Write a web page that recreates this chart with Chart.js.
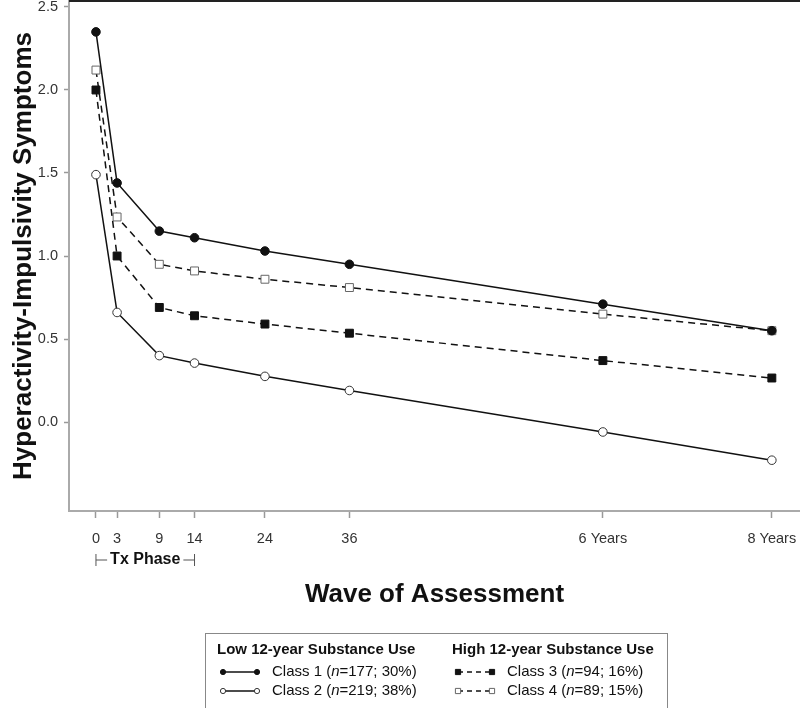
<!DOCTYPE html>
<html>
<head>
<meta charset="utf-8">
<script src="https://cdn.jsdelivr.net/npm/chart.js@4"></script>
<style>
  html, body { margin: 0; padding: 0; background: #fff; }
  #wrap { width: 800px; height: 708px; position: relative; }
</style>
</head>
<body>
<div id="wrap"><canvas id="chart"></canvas></div>
<script>
// --- Data ---
const waves = [0, 3, 9, 14, 24, 36, 72, 96]; // months since baseline
const waveLabels = ["0", "3", "9", "14", "24", "36", "6 Years", "8 Years"];
const yTicks = [0, 0.5, 1, 1.5, 2, 2.5];
const txPhase = [0, 14];

const class1 = [2.35, 1.44, 1.15, 1.11, 1.03, 0.95, 0.71, 0.55];
const class2 = [1.49, 0.66, 0.40, 0.355, 0.275, 0.19, -0.06, -0.23];
const class3 = [2.0, 1.0, 0.69, 0.64, 0.59, 0.535, 0.37, 0.265];
const class4 = [2.12, 1.235, 0.95, 0.91, 0.86, 0.81, 0.65, 0.55];

const classNames = ["Class 1", "Class 2", "Class 3", "Class 4"];
const classN = [177, 219, 94, 89];
const classPct = [30, 38, 16, 15];
const groupTitles = ["Low 12-year Substance Use", "High 12-year Substance Use"];

const FONT = "'Liberation Sans', Arial, Helvetica, sans-serif";
const INK = "#111";

function pts(vals) {
  return waves.map((w, i) => ({ x: w, y: vals[i] }));
}

// --- Series styles ---
const series = [
  { data: class1, dash: [], shape: "circle", fill: INK, stroke: INK },
  { data: class2, dash: [], shape: "circle", fill: "#fff", stroke: "#333" },
  { data: class3, dash: [7, 5], shape: "rect", fill: INK, stroke: INK },
  { data: class4, dash: [7, 5], shape: "rect", fill: "#fff", stroke: "#666" },
];

const datasets = series.map((s, i) => ({
  label: `${classNames[i]} (n=${classN[i]}; ${classPct[i]}%)`,
  data: pts(s.data),
  borderColor: INK,
  borderWidth: 1.5,
  borderDash: s.dash,
  tension: 0,
  pointStyle: s.shape,
  pointRadius: s.shape === "rect" ? 5.6 : 4.3,
  pointBorderWidth: 1,
  pointBackgroundColor: s.fill,
  pointBorderColor: s.stroke,
}));

// --- Marker helper for the legend ---
function marker(ctx, s, x, y) {
  ctx.save();
  ctx.setLineDash([]);
  ctx.lineWidth = 1;
  ctx.fillStyle = s.fill;
  ctx.strokeStyle = s.stroke;
  ctx.beginPath();
  if (s.shape === "circle") ctx.arc(x, y, 2.6, 0, Math.PI * 2);
  else ctx.rect(x - 2.6, y - 2.6, 5.2, 5.2);
  ctx.fill();
  ctx.stroke();
  ctx.restore();
}

function classLabel(ctx, i, x, y) {
  const parts = [
    [classNames[i] + " (", "normal"],
    ["n", "italic"],
    ["=" + classN[i] + "; " + classPct[i] + "%)", "normal"],
  ];
  for (const [t, style] of parts) {
    ctx.font = style + " 15px " + FONT;
    ctx.fillText(t, x, y);
    x += ctx.measureText(t).width;
  }
}

// --- Extras: top frame line, Tx Phase bracket, grouped legend ---
const extras = {
  id: "extras",
  afterDraw(chart) {
    const { ctx, chartArea } = chart;
    const xs = chart.scales.x;

    ctx.save();
    ctx.strokeStyle = "#222";
    ctx.lineWidth = 2;
    ctx.beginPath();
    ctx.moveTo(chartArea.left, chartArea.top);
    ctx.lineTo(chartArea.right, chartArea.top);
    ctx.stroke();

    // Tx Phase bracket
    const x0 = xs.getPixelForValue(txPhase[0]);
    const x1 = xs.getPixelForValue(txPhase[1]);
    const by = chartArea.bottom + 49;
    ctx.font = "bold 16px " + FONT;
    const tw = ctx.measureText("Tx Phase").width;
    const cx = (x0 + x1) / 2;
    ctx.strokeStyle = "#555";
    ctx.lineWidth = 1;
    ctx.beginPath();
    ctx.moveTo(x0, by - 6); ctx.lineTo(x0, by + 6);
    ctx.moveTo(x0, by); ctx.lineTo(cx - tw / 2 - 3, by);
    ctx.moveTo(cx + tw / 2 + 3, by); ctx.lineTo(x1, by);
    ctx.moveTo(x1, by - 6); ctx.lineTo(x1, by + 6);
    ctx.stroke();
    ctx.fillStyle = INK;
    ctx.textAlign = "center";
    ctx.textBaseline = "middle";
    ctx.fillText("Tx Phase", cx, by);

    // Legend box
    ctx.strokeStyle = "#888";
    ctx.lineWidth = 1;
    ctx.strokeRect(205.5, 633.5, 462, 90);
    ctx.textAlign = "left";
    const cols = [{ x: 217, items: [0, 1] }, { x: 452, items: [2, 3] }];
    const rows = [672, 691];
    cols.forEach((c, ci) => {
      ctx.font = "bold 15px " + FONT;
      ctx.fillStyle = INK;
      ctx.fillText(groupTitles[ci], c.x, 650);
      c.items.forEach((di, ri) => {
        const s = series[di];
        const y = rows[ri];
        const a = c.x + 6, b = c.x + 40;
        ctx.strokeStyle = INK;
        ctx.lineWidth = 1.5;
        ctx.setLineDash(s.dash.length ? [5, 4] : []);
        ctx.beginPath();
        ctx.moveTo(a, y);
        ctx.lineTo(b, y);
        ctx.stroke();
        ctx.setLineDash([]);
        marker(ctx, s, a, y);
        marker(ctx, s, b, y);
        ctx.fillStyle = INK;
        classLabel(ctx, di, c.x + 55, y);
      });
    });
    ctx.restore();
  },
};

const tickFont = { family: FONT, size: 14.5 };
const titleFont = { family: FONT, size: 26, weight: "bold", lineHeight: 1.2 };

new Chart(document.getElementById("chart"), {
  type: "line",
  data: { datasets },
  plugins: [extras],
  options: {
    responsive: true,
    maintainAspectRatio: false,
    animation: false,
    layout: { autoPadding: false, padding: { top: 1, left: 0, right: 0, bottom: 0 } },
    plugins: { legend: { display: false }, tooltip: { enabled: false } },
    scales: {
      x: {
        type: "linear",
        min: -3.83,
        max: 100,
        afterBuildTicks: (s) => { s.ticks = waves.map((v) => ({ value: v })); },
        afterFit: (s) => { s.height = 197; s.paddingLeft = 0; s.paddingRight = 0; },
        ticks: {
          callback: (v, i) => waveLabels[i],
          color: "#333",
          font: tickFont,
          padding: 12,
          maxRotation: 0,
          autoSkip: false,
        },
        grid: { drawOnChartArea: false, drawTicks: true, tickLength: 7, tickColor: "#999", tickWidth: 1.5 },
        border: { color: "#aaa", width: 2 },
        title: {
          display: true,
          text: "Wave of Assessment",
          color: INK,
          font: titleFont,
          padding: { top: 0, bottom: 97.4 },
        },
      },
      y: {
        type: "linear",
        min: -0.536,
        max: 2.536,
        afterBuildTicks: (s) => { s.ticks = yTicks.map((v) => ({ value: v })); },
        afterFit: (s) => { s.width = 69; s.paddingTop = 0; s.paddingBottom = 0; },
        ticks: {
          callback: (v) => Number(v).toFixed(1),
          color: "#333",
          font: tickFont,
          padding: 6,
        },
        grid: { drawOnChartArea: false, drawTicks: true, tickLength: 5, tickColor: "#999", tickWidth: 1.5 },
        border: { color: "#aaa", width: 2 },
        title: {
          display: true,
          text: "Hyperactivity-Impulsivity Symptoms",
          color: INK,
          font: titleFont,
          padding: { top: 8.4, bottom: 0 },
        },
      },
    },
  },
});
</script>
</body>
</html>
